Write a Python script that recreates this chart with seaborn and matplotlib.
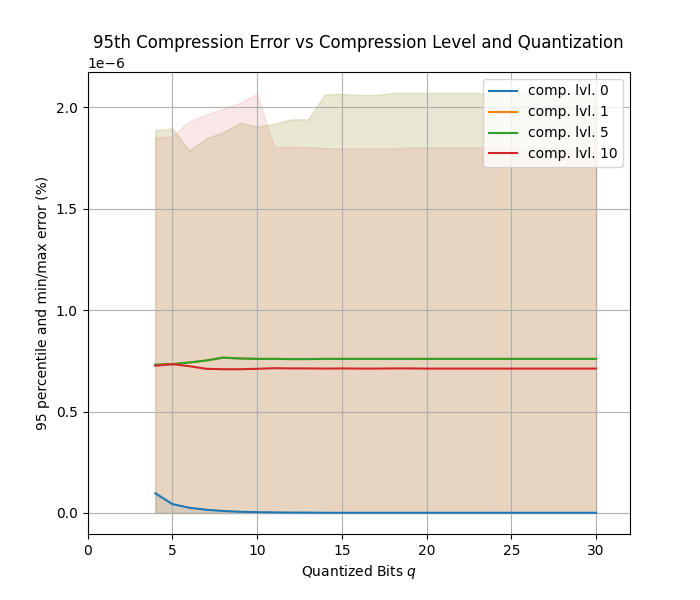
import matplotlib
matplotlib.use("Agg")
import matplotlib.pyplot as plt
import seaborn as sns
import numpy as np
import pandas as pd

# quantized bits
q_bits = list(range(4, 31))
levels = [0, 1, 5, 10]

# 95th percentile error (units of 1e-6)
p95_lvl0 = [0.097, 0.044, 0.026, 0.016, 0.010, 0.006, 0.004, 0.003, 0.002, 0.002,
            0.001, 0.001, 0.001, 0.001, 0.001, 0.001, 0.001, 0.001, 0.001, 0.001,
            0.001, 0.001, 0.001, 0.001, 0.001, 0.001, 0.001]
p95_lvl1 = [0.731, 0.734, 0.742, 0.752, 0.766, 0.762, 0.760, 0.760, 0.759, 0.759,
            0.760, 0.760, 0.760, 0.760, 0.760, 0.760, 0.760, 0.760, 0.760, 0.760,
            0.760, 0.760, 0.760, 0.760, 0.760, 0.760, 0.760]
p95_lvl5 = [0.731, 0.734, 0.742, 0.752, 0.766, 0.762, 0.760, 0.760, 0.759, 0.759,
            0.760, 0.760, 0.760, 0.760, 0.760, 0.760, 0.760, 0.760, 0.760, 0.760,
            0.760, 0.760, 0.760, 0.760, 0.760, 0.760, 0.760]
p95_lvl10 = [0.726, 0.734, 0.724, 0.711, 0.709, 0.709, 0.711, 0.714, 0.713, 0.713,
             0.712, 0.713, 0.712, 0.712, 0.713, 0.713, 0.712, 0.712, 0.712, 0.712,
             0.712, 0.712, 0.712, 0.712, 0.712, 0.712, 0.712]

# min / max error (units of 1e-6)
min_lvl0 = [0.0] * 27
min_lvl1 = [0.0] * 27
min_lvl5 = [0.0] * 27
min_lvl10 = [0.0] * 27
max_lvl0 = [0.105, 0.048, 0.028, 0.017, 0.011, 0.007, 0.005, 0.003, 0.002, 0.002,
            0.001, 0.001, 0.001, 0.001, 0.001, 0.001, 0.001, 0.001, 0.001, 0.001,
            0.001, 0.001, 0.001, 0.001, 0.001, 0.001, 0.001]
max_lvl1 = [1.888, 1.896, 1.788, 1.847, 1.878, 1.924, 1.906, 1.919, 1.941, 1.941,
            2.064, 2.067, 2.061, 2.061, 2.071, 2.071, 2.071, 2.071, 2.071, 2.071,
            2.071, 2.071, 2.071, 2.071, 2.071, 2.071, 2.071]
max_lvl5 = [1.888, 1.896, 1.788, 1.847, 1.878, 1.924, 1.906, 1.919, 1.941, 1.941,
            2.064, 2.067, 2.061, 2.061, 2.071, 2.071, 2.071, 2.071, 2.071, 2.071,
            2.071, 2.071, 2.071, 2.071, 2.071, 2.071, 2.071]
max_lvl10 = [1.850, 1.858, 1.932, 1.965, 1.994, 2.023, 2.067, 1.806, 1.805, 1.804,
             1.799, 1.798, 1.798, 1.798, 1.798, 1.802, 1.803, 1.803, 1.803, 1.803,
             1.803, 1.803, 1.803, 1.803, 1.803, 1.803, 1.803]

p95 = [p95_lvl0, p95_lvl1, p95_lvl5, p95_lvl10]
mins = [min_lvl0, min_lvl1, min_lvl5, min_lvl10]
maxs = [max_lvl0, max_lvl1, max_lvl5, max_lvl10]

rows = []
for lvl, vals in zip(levels, p95):
    for q, v in zip(q_bits, vals):
        rows.append({"q": q, "err": v * 1e-6, "level": f"comp. lvl. {lvl}"})
df = pd.DataFrame(rows)

colors = sns.color_palette("tab10", 4)

fig, ax = plt.subplots(figsize=(7, 6), dpi=100)
for c, lo, hi in zip(colors, mins, maxs):
    ax.fill_between(q_bits, np.array(lo) * 1e-6, np.array(hi) * 1e-6, color=c, alpha=0.1)

sns.lineplot(data=df, x="q", y="err", hue="level", palette=colors, ax=ax)

ax.set_xlim(0, 32)
ax.grid(True)
ax.set_title("95th Compression Error vs Compression Level and Quantization")
ax.set_xlabel("Quantized Bits $q$")
ax.set_ylabel("95 percentile and min/max error (%)")
ax.legend(loc="upper right")

fig.savefig("out.png", dpi=100)
